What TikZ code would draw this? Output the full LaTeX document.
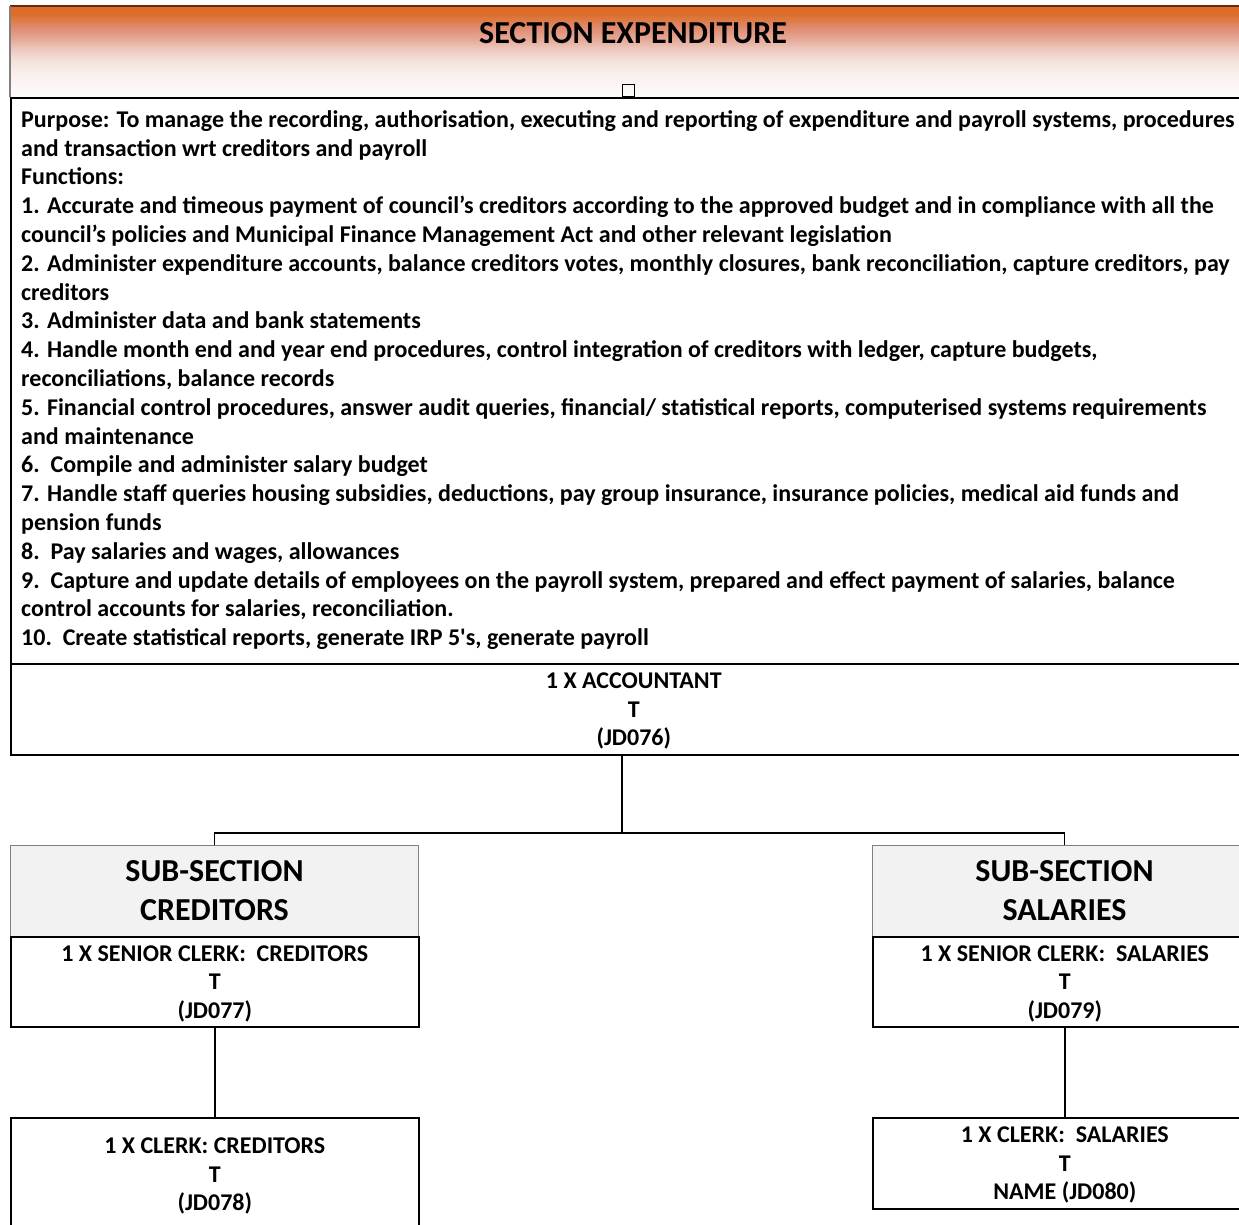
\documentclass[tikz,border=0pt]{standalone}
\usepackage{fontspec}
\setmainfont{Carlito}
\definecolor{hdrA}{RGB}{220,108,40}
\definecolor{hdrB}{RGB}{221,122,70}
\definecolor{hdrC}{RGB}{224,144,120}
\definecolor{hdrD}{RGB}{230,170,152}
\definecolor{hdrE}{RGB}{237,202,192}
\definecolor{hdrF}{RGB}{243,224,218}
\definecolor{hdrG}{RGB}{248,238,234}
\definecolor{hdrH}{RGB}{251,246,244}
\definecolor{hdrI}{RGB}{253,252,251}
\definecolor{hdrtop}{RGB}{100,45,15}
\definecolor{subfill}{RGB}{242,242,242}
\definecolor{subedge}{RGB}{128,128,128}
\begin{document}
\begin{tikzpicture}[x=1pt,y=-1pt,
  box/.style={draw=black, line width=1.6pt, inner sep=0pt, anchor=north west},
  subbox/.style={draw=subedge, line width=1pt, fill=subfill, inner sep=0pt, anchor=north west,
    font=\bfseries\fontsize{32}{39}\selectfont, align=center},
  posttext/.style={font=\bfseries\fontsize{24}{28.5}\selectfont, align=center, inner sep=0pt},
  bodytext/.style={font=\bfseries\fontsize{24}{28.8}\selectfont, align=left, inner sep=0pt},
  conn/.style={draw=black, line width=1.6pt}]
\useasboundingbox (0,0) rectangle (1239,1225);
\clip (0,0) rectangle (1239,1225);

% heading band: orange fading to white, painted in one-pixel strips
\node[anchor=north west, minimum width=1246pt, minimum height=91pt, inner sep=0pt] (hdr) at (10,6) {};
\foreach \ya/\yb/\ca/\cb in {6/14/hdrA/hdrA, 14/20/hdrA/hdrB, 20/30/hdrB/hdrC, 30/40/hdrC/hdrD,
    40/50/hdrD/hdrE, 50/60/hdrE/hdrF, 60/72/hdrF/hdrG, 72/85/hdrG/hdrH, 85/97/hdrH/hdrI}{
  \pgfmathtruncatemacro\n{\yb-\ya}
  \foreach \i in {1,...,\n}{
    \pgfmathtruncatemacro\p{100*(\i-0.5)/\n}
    \fill[\cb!\p!\ca] (10,\ya+\i-1) rectangle (1256,\ya+\i+0.3);
  }
}
\draw[hdrtop, line width=2pt] (hdr.north west) -- (hdr.north east);
\draw[subedge, line width=1.2pt] (hdr.north west) -- (hdr.south west);
\node[font=\bfseries\fontsize{32}{39}\selectfont, anchor=base] (title) at (633,43.5) {SECTION EXPENDITURE};
\node[draw=black, line width=1.4pt, minimum width=12pt, minimum height=12pt, inner sep=0pt,
      anchor=south west] (mark) at (622,97) {};

% purpose and functions (anchored on the baseline of the last line)
\node[box, minimum width=1246pt, minimum height=566pt] (purpose) at (10,97) {};
\node[bodytext, anchor=base west] (ptext) at (21,645.7) {%
Purpose: To manage the recording, authorisation, executing and reporting of expenditure and payroll systems, procedures\\
and transaction wrt creditors and payroll\\
Functions:\\
1. Accurate and timeous payment of council’s creditors according to the approved budget and in compliance with all the\\
council’s policies and Municipal Finance Management Act and other relevant legislation\\
2. Administer expenditure accounts, balance creditors votes, monthly closures, bank reconciliation, capture creditors, pay\\
creditors\\
3. Administer data and bank statements\\
4. Handle month end and year end procedures, control integration of creditors with ledger, capture budgets,\\
reconciliations, balance records\\
5. Financial control procedures, answer audit queries, financial/ statistical reports, computerised systems requirements\\
and maintenance\\
6.\ \ Compile and administer salary budget\\
7. Handle staff queries housing subsidies, deductions, pay group insurance, insurance policies, medical aid funds and\\
pension funds\\
8.\ \ Pay salaries and wages, allowances\\
9.\ \ Capture and update details of employees on the payroll system, prepared and effect payment of salaries, balance\\
control accounts for salaries, reconciliation.\\
10.\ \ Create statistical reports, generate IRP 5\textquotesingle s, generate payroll};

% accountant
\node[box, minimum width=1246pt, minimum height=91pt] (acct) at (10,663) {};
\node[posttext] (acctL) at ([yshift=-2pt]acct.center) {1 X ACCOUNTANT\\T\\(JD076)};

% creditors sub-section
\node[subbox, minimum width=408pt, minimum height=91pt] (subc) at (10,845) {SUB-SECTION\\CREDITORS};
\node[box, minimum width=408pt, minimum height=90pt] (scc) at (10,936) {};
\node[posttext] (sccL) at ([yshift=-2pt]scc.center) {1 X SENIOR CLERK:\ \ CREDITORS\\T\\(JD077)};
\node[box, minimum width=408pt, minimum height=114pt] (clc) at (10,1117) {};
\node[posttext] (clcL) at ([yshift=-1.5pt]clc.center) {1 X CLERK: CREDITORS\\T\\(JD078)};

% salaries sub-section
\node[subbox, minimum width=384pt, minimum height=91pt] (subs) at (872,845) {SUB-SECTION\\SALARIES};
\node[box, minimum width=384pt, minimum height=90pt] (scs) at (872,936) {};
\node[posttext] (scsL) at ([yshift=-2pt]scs.center) {1 X SENIOR CLERK:\ \ SALARIES\\T\\(JD079)};
\node[box, minimum width=384pt, minimum height=91pt] (cls) at (872,1117) {};
\node[posttext] (clsL) at ([yshift=-2pt]cls.center) {1 X CLERK:\ \ SALARIES\\T\\NAME (JD080)};

% reporting lines
\coordinate (split) at (622,833);
\draw[conn] (acct.south -| split) -- (split);
\draw[conn] (subc.north) |- (split) -| (subs.north);
\draw[conn] (scc.south) -- (clc.north);
\draw[conn] (scs.south) -- (cls.north);
\end{tikzpicture}
\end{document}
